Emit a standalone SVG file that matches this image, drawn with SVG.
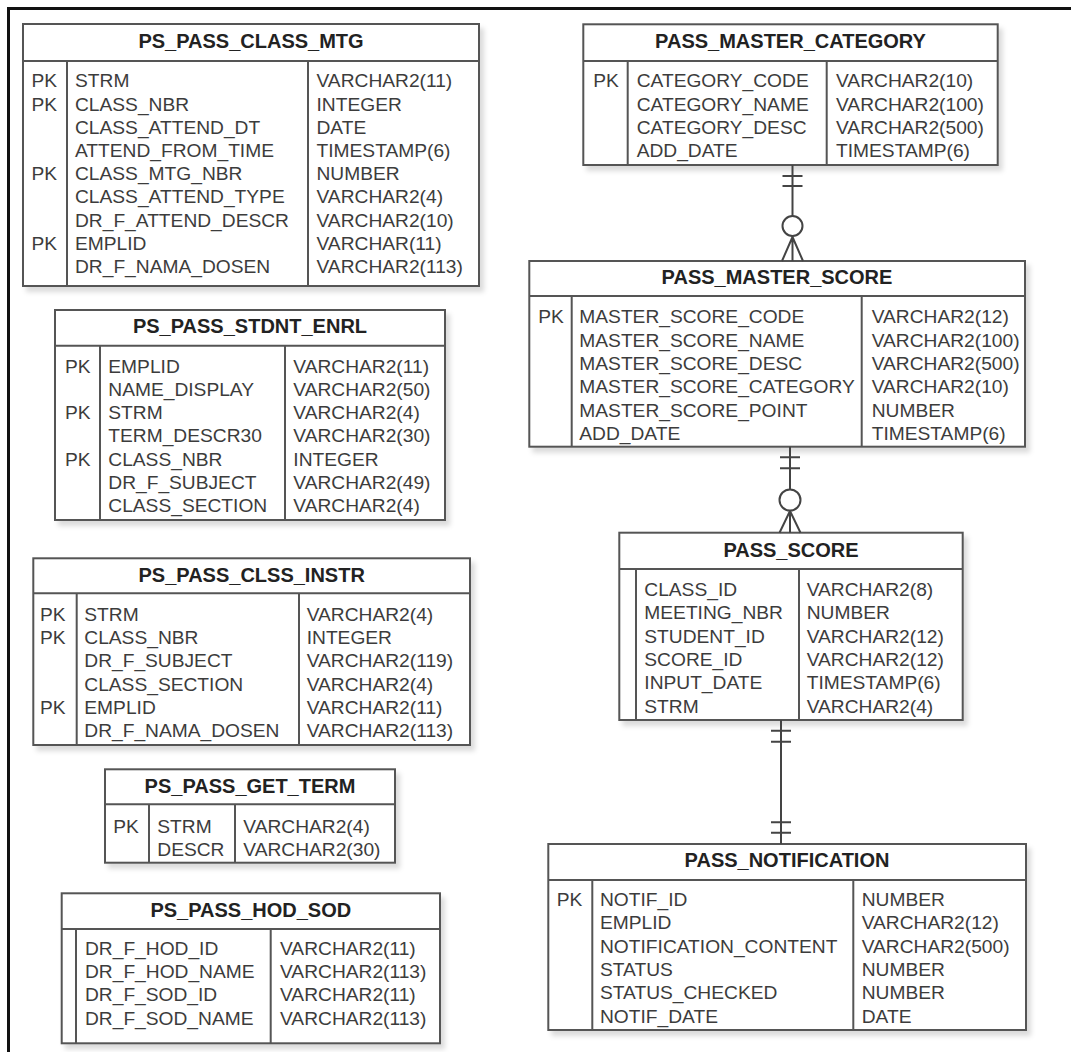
<svg xmlns="http://www.w3.org/2000/svg" width="1071" height="1052" viewBox="0 0 1071 1052">
<defs>
<filter id="sh" x="-5%" y="-5%" width="115%" height="120%">
<feDropShadow dx="4" dy="5" stdDeviation="2.5" flood-color="#000" flood-opacity="0.14"/>
</filter>
<style>
.box{fill:#fff;stroke:#555;stroke-width:2;filter:url(#sh)}
.ln{stroke:#555;stroke-width:2;fill:none}
.t{font-family:"Liberation Sans",Arial,sans-serif;font-size:20px;font-weight:bold;fill:#222;text-anchor:middle}
.r{font-family:"Liberation Sans",Arial,sans-serif;font-size:19.2px;fill:#3c3c3c}
.c{stroke:#444;stroke-width:2;fill:none}
.o{stroke:#444;stroke-width:2;fill:#fff}
</style>
</defs>
<rect width="1071" height="1052" fill="#fff"/>
<path d="M8.5,1052 V8.5 H1071" fill="none" stroke="#111" stroke-width="3"/>

<g id="ps_pass_class_mtg">
<rect class="box" x="23" y="24" width="456" height="262"/>
<path class="ln" d="M23,61 H479 M67,61 V286 M308,61 V286"/>
<text class="t" x="251" y="48">PS_PASS_CLASS_MTG</text>
<text class="r" x="31.5" y="87.3">PK</text><text class="r" x="75" y="87.3">STRM</text><text class="r" x="316.5" y="87.3">VARCHAR2(11)</text>
<text class="r" x="31.5" y="110.5">PK</text><text class="r" x="75" y="110.5">CLASS_NBR</text><text class="r" x="316.5" y="110.5">INTEGER</text>
<text class="r" x="75" y="133.7">CLASS_ATTEND_DT</text><text class="r" x="316.5" y="133.7">DATE</text>
<text class="r" x="75" y="156.9">ATTEND_FROM_TIME</text><text class="r" x="316.5" y="156.9">TIMESTAMP(6)</text>
<text class="r" x="31.5" y="180.1">PK</text><text class="r" x="75" y="180.1">CLASS_MTG_NBR</text><text class="r" x="316.5" y="180.1">NUMBER</text>
<text class="r" x="75" y="203.3">CLASS_ATTEND_TYPE</text><text class="r" x="316.5" y="203.3">VARCHAR2(4)</text>
<text class="r" x="75" y="226.5">DR_F_ATTEND_DESCR</text><text class="r" x="316.5" y="226.5">VARCHAR2(10)</text>
<text class="r" x="31.5" y="249.7">PK</text><text class="r" x="75" y="249.7">EMPLID</text><text class="r" x="316.5" y="249.7">VARCHAR(11)</text>
<text class="r" x="75" y="272.9">DR_F_NAMA_DOSEN</text><text class="r" x="316.5" y="272.9">VARCHAR2(113)</text>
</g>

<g id="ps_pass_stdnt_enrl">
<rect class="box" x="55" y="310" width="390" height="210"/>
<path class="ln" d="M55,345.7 H445 M100,345.7 V520 M285,345.7 V520"/>
<text class="t" x="250" y="333.3">PS_PASS_STDNT_ENRL</text>
<text class="r" x="65" y="372.7">PK</text><text class="r" x="108.3" y="372.7">EMPLID</text><text class="r" x="293.3" y="372.7">VARCHAR2(11)</text>
<text class="r" x="108.3" y="395.9">NAME_DISPLAY</text><text class="r" x="293.3" y="395.9">VARCHAR2(50)</text>
<text class="r" x="65" y="419.1">PK</text><text class="r" x="108.3" y="419.1">STRM</text><text class="r" x="293.3" y="419.1">VARCHAR2(4)</text>
<text class="r" x="108.3" y="442.3">TERM_DESCR30</text><text class="r" x="293.3" y="442.3">VARCHAR2(30)</text>
<text class="r" x="65" y="465.5">PK</text><text class="r" x="108.3" y="465.5">CLASS_NBR</text><text class="r" x="293.3" y="465.5">INTEGER</text>
<text class="r" x="108.3" y="488.7">DR_F_SUBJECT</text><text class="r" x="293.3" y="488.7">VARCHAR2(49)</text>
<text class="r" x="108.3" y="511.9">CLASS_SECTION</text><text class="r" x="293.3" y="511.9">VARCHAR2(4)</text>
</g>

<g id="ps_pass_clss_instr">
<rect class="box" x="33.3" y="558.3" width="436.7" height="186.7"/>
<path class="ln" d="M33.3,593.3 H470 M76.7,593.3 V745 M299,593.3 V745"/>
<text class="t" x="251.7" y="582.3">PS_PASS_CLSS_INSTR</text>
<text class="r" x="40" y="621">PK</text><text class="r" x="84.3" y="621">STRM</text><text class="r" x="306.7" y="621">VARCHAR2(4)</text>
<text class="r" x="40" y="644.2">PK</text><text class="r" x="84.3" y="644.2">CLASS_NBR</text><text class="r" x="306.7" y="644.2">INTEGER</text>
<text class="r" x="84.3" y="667.4">DR_F_SUBJECT</text><text class="r" x="306.7" y="667.4">VARCHAR2(119)</text>
<text class="r" x="84.3" y="690.6">CLASS_SECTION</text><text class="r" x="306.7" y="690.6">VARCHAR2(4)</text>
<text class="r" x="40" y="713.8">PK</text><text class="r" x="84.3" y="713.8">EMPLID</text><text class="r" x="306.7" y="713.8">VARCHAR2(11)</text>
<text class="r" x="84.3" y="737">DR_F_NAMA_DOSEN</text><text class="r" x="306.7" y="737">VARCHAR2(113)</text>
</g>

<g id="ps_pass_get_term">
<rect class="box" x="105" y="769.3" width="290" height="93.4"/>
<path class="ln" d="M105,804.3 H395 M149,804.3 V862.7 M235,804.3 V862.7"/>
<text class="t" x="250" y="792.7">PS_PASS_GET_TERM</text>
<text class="r" x="113.3" y="832.7">PK</text><text class="r" x="157.3" y="832.7">STRM</text><text class="r" x="243.3" y="832.7">VARCHAR2(4)</text>
<text class="r" x="157.3" y="855.5">DESCR</text><text class="r" x="243.3" y="855.5">VARCHAR2(30)</text>
</g>

<g id="ps_pass_hod_sod">
<rect class="box" x="61.7" y="893.3" width="378.3" height="150"/>
<path class="ln" d="M61.7,929 H440 M76,929 V1043.3 M270.7,929 V1043.3"/>
<text class="t" x="250.8" y="916.7">PS_PASS_HOD_SOD</text>
<text class="r" x="85" y="955">DR_F_HOD_ID</text><text class="r" x="280" y="955">VARCHAR2(11)</text>
<text class="r" x="85" y="978.2">DR_F_HOD_NAME</text><text class="r" x="280" y="978.2">VARCHAR2(113)</text>
<text class="r" x="85" y="1001.4">DR_F_SOD_ID</text><text class="r" x="280" y="1001.4">VARCHAR2(11)</text>
<text class="r" x="85" y="1024.6">DR_F_SOD_NAME</text><text class="r" x="280" y="1024.6">VARCHAR2(113)</text>
</g>

<g id="pass_master_category">
<rect class="box" x="583.3" y="24.3" width="414.4" height="140.7"/>
<path class="ln" d="M583.3,61 H997.7 M627.7,61 V165 M826.7,61 V165"/>
<text class="t" x="790.5" y="48.3">PASS_MASTER_CATEGORY</text>
<text class="r" x="593.3" y="87.3">PK</text><text class="r" x="636.7" y="87.3">CATEGORY_CODE</text><text class="r" x="836" y="87.3">VARCHAR2(10)</text>
<text class="r" x="636.7" y="110.5">CATEGORY_NAME</text><text class="r" x="836" y="110.5">VARCHAR2(100)</text>
<text class="r" x="636.7" y="133.7">CATEGORY_DESC</text><text class="r" x="836" y="133.7">VARCHAR2(500)</text>
<text class="r" x="636.7" y="156.9">ADD_DATE</text><text class="r" x="836" y="156.9">TIMESTAMP(6)</text>
</g>

<g id="pass_master_score">
<rect class="box" x="529.3" y="261" width="495.7" height="185.7"/>
<path class="ln" d="M529.3,296 H1025 M571.7,296 V446.7 M861.7,296 V446.7"/>
<text class="t" x="777" y="284.3">PASS_MASTER_SCORE</text>
<text class="r" x="538.3" y="323.3">PK</text><text class="r" x="579.3" y="323.3">MASTER_SCORE_CODE</text><text class="r" x="871.7" y="323.3">VARCHAR2(12)</text>
<text class="r" x="579.3" y="346.6">MASTER_SCORE_NAME</text><text class="r" x="871.7" y="346.6">VARCHAR2(100)</text>
<text class="r" x="579.3" y="369.9">MASTER_SCORE_DESC</text><text class="r" x="871.7" y="369.9">VARCHAR2(500)</text>
<text class="r" x="579.3" y="393.2">MASTER_SCORE_CATEGORY</text><text class="r" x="871.7" y="393.2">VARCHAR2(10)</text>
<text class="r" x="579.3" y="416.5">MASTER_SCORE_POINT</text><text class="r" x="871.7" y="416.5">NUMBER</text>
<text class="r" x="579.3" y="439.8">ADD_DATE</text><text class="r" x="871.7" y="439.8">TIMESTAMP(6)</text>
</g>

<g id="pass_score">
<rect class="box" x="619.3" y="532.7" width="343.4" height="187.3"/>
<path class="ln" d="M619.3,569 H962.7 M636,569 V720 M799,569 V720"/>
<text class="t" x="791" y="557.3">PASS_SCORE</text>
<text class="r" x="644.3" y="596">CLASS_ID</text><text class="r" x="806.7" y="596">VARCHAR2(8)</text>
<text class="r" x="644.3" y="619.3">MEETING_NBR</text><text class="r" x="806.7" y="619.3">NUMBER</text>
<text class="r" x="644.3" y="642.6">STUDENT_ID</text><text class="r" x="806.7" y="642.6">VARCHAR2(12)</text>
<text class="r" x="644.3" y="665.9">SCORE_ID</text><text class="r" x="806.7" y="665.9">VARCHAR2(12)</text>
<text class="r" x="644.3" y="689.2">INPUT_DATE</text><text class="r" x="806.7" y="689.2">TIMESTAMP(6)</text>
<text class="r" x="644.3" y="712.5">STRM</text><text class="r" x="806.7" y="712.5">VARCHAR2(4)</text>
</g>

<g id="pass_notification">
<rect class="box" x="548.3" y="844" width="477.7" height="186"/>
<path class="ln" d="M548.3,880 H1026 M592.3,880 V1030 M853.3,880 V1030"/>
<text class="t" x="787" y="866.7">PASS_NOTIFICATION</text>
<text class="r" x="556.7" y="906">PK</text><text class="r" x="600" y="906">NOTIF_ID</text><text class="r" x="861.7" y="906">NUMBER</text>
<text class="r" x="600" y="929.3">EMPLID</text><text class="r" x="861.7" y="929.3">VARCHAR2(12)</text>
<text class="r" x="600" y="952.6">NOTIFICATION_CONTENT</text><text class="r" x="861.7" y="952.6">VARCHAR2(500)</text>
<text class="r" x="600" y="975.9">STATUS</text><text class="r" x="861.7" y="975.9">NUMBER</text>
<text class="r" x="600" y="999.2">STATUS_CHECKED</text><text class="r" x="861.7" y="999.2">NUMBER</text>
<text class="r" x="600" y="1022.5">NOTIF_DATE</text><text class="r" x="861.7" y="1022.5">DATE</text>
</g>

<g id="connectors">
<path class="c" d="M792.5,165 V261 M782.5,176 H802.5 M782.5,186 H802.5 M792.5,237 L782,261 M792.5,237 L803,261"/>
<circle class="o" cx="792.5" cy="226" r="10"/>
<path class="c" d="M790,446.7 V532.7 M780,457.3 H800 M780,468.3 H800 M790,511 L779.5,532.7 M790,511 L800.5,532.7"/>
<circle class="o" cx="790" cy="500" r="10.5"/>
<path class="c" d="M781,720 V844 M771,730.7 H791 M771,741.7 H791 M771,822.3 H791 M771,832.7 H791"/>
</g>
</svg>
